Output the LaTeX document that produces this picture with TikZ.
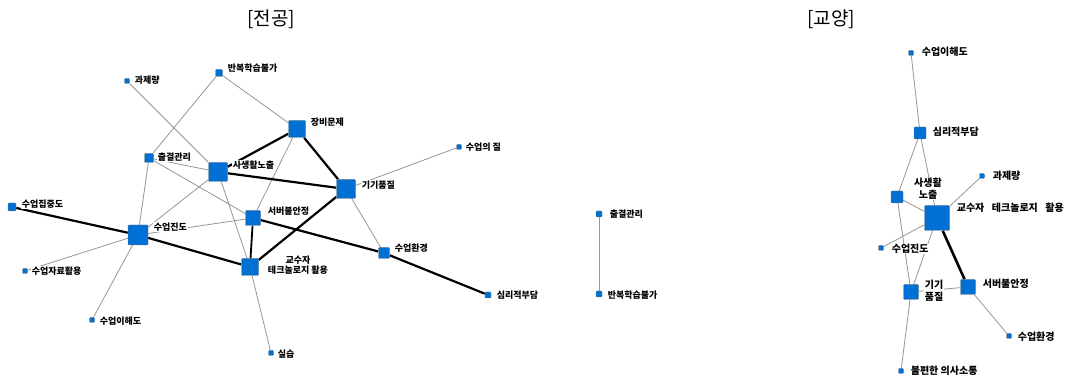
\documentclass[tikz,border=0pt]{standalone}
\usepackage{fontspec}
\setmainfont{Noto Sans CJK KR}
\definecolor{nodeblue}{RGB}{0,112,212}
\definecolor{edgegray}{RGB}{150,150,150}
\pgfdeclarelayer{background}
\pgfsetlayers{background,main}
\begin{document}
\begin{tikzpicture}[x=1pt,y=-1pt,
  nd/.style={draw=black!55,fill=nodeblue,line width=0.4pt,rounded corners=0.8pt,inner sep=0pt,minimum size=#1},
  lbl/.style={font=\bfseries\fontsize{9}{10}\selectfont,fill=white,inner sep=0.6pt,anchor=west},
  lblc/.style={font=\bfseries\fontsize{9}{10.5}\selectfont,fill=white,inner sep=0.6pt,align=center},
  rlbl/.style={font=\bfseries\fontsize{10}{11}\selectfont,fill=white,inner sep=0.6pt,anchor=west},
  rlblc/.style={font=\bfseries\fontsize{10}{12}\selectfont,fill=white,inner sep=0.6pt,align=center},
  thin edge/.style={draw=edgegray,line width=0.8pt},
  thick edge/.style={draw=black,line width=2.2pt},
  ttl/.style={font=\fontsize{19}{20}\selectfont}
]
\useasboundingbox (0,0) rectangle (1069,379);
% titles
\node[ttl] (t1) at (271,19) {[전공]};
\node[ttl] (t2) at (831,19) {[교양]};

% ---- left labels
\node[lbl] (a1) at (134,80) {과제량};
\node[lbl] (a2) at (227,68) {반복학습불가};
\node[lbl] (a3) at (310,122) {장비문제};
\node[lbl] (a4) at (157,157) {출결관리};
\node[lbl] (a5) at (232,165) {사생활노출};
\node[lbl] (a6) at (361,185) {기기품질};
\node[lbl] (a7) at (465,147) {수업의 질};
\node[lbl] (a8) at (21,204) {수업집중도};
\node[lbl] (a9) at (267,211) {서버불안정};
\node[lbl] (a10) at (153,227) {수업진도};
\node[lbl] (a11) at (394,248) {수업환경};
\node[lblc] (a12) at (298,265) {교수자\\테크놀로지 활용};
\node[lbl] (a13) at (31,271) {수업자료활용};
\node[lbl] (a14) at (496,295) {심리적부담};
\node[lbl] (a15) at (99,321) {수업이해도};
\node[lbl] (a16) at (277,354) {실습};
\node[lbl] (b1) at (609,214) {출결관리};
\node[lbl] (b2) at (607,295) {반복학습불가};
% ---- right labels
\node[rlbl] (c1) at (921,52) {수업이해도};
\node[rlbl] (c2) at (932,132) {심리적부담};
\node[rlbl] (c3) at (992,176) {과제량};
\node[rlblc] (c4) at (928,189) {사생활\\노출};
\node[rlbl] (c5) at (956,208) {교수자\hspace{0.75em}테크놀로지\hspace{0.75em}활용};
\node[rlbl] (c6) at (891,249) {수업진도};
\node[rlblc] (c7) at (934,291) {기기\\품질};
\node[rlbl] (c8) at (982,284) {서버불안정};
\node[rlbl] (c9) at (1017,337) {수업환경};
\node[rlbl] (c10) at (910,371) {불편한 의사소통};

% ---- left nodes
\node[nd=5pt] (L1) at (127,81) {};
\node[nd=7pt] (L2) at (219,73) {};
\node[nd=17pt] (L3) at (297,129) {};
\node[nd=9pt] (L4) at (149,158) {};
\node[nd=19pt] (L5) at (218,172) {};
\node[nd=19pt] (L6) at (346,189) {};
\node[nd=5pt] (L7) at (459,147) {};
\node[nd=8pt] (L8) at (12,207) {};
\node[nd=15pt] (L9) at (253,218) {};
\node[nd=20pt] (L10) at (138,235) {};
\node[nd=11pt] (L11) at (384,253) {};
\node[nd=17pt] (L12) at (250,267) {};
\node[nd=5pt] (L13) at (25,271) {};
\node[nd=6pt] (L14) at (488,295) {};
\node[nd=5pt] (L15) at (92,320) {};
\node[nd=5pt] (L16) at (271,353) {};
\node[nd=6pt] (M1) at (599,214) {};
\node[nd=6pt] (M2) at (599,294) {};
% ---- right nodes
\node[nd=5pt] (R1) at (911,53) {};
\node[nd=12pt] (R2) at (920,133) {};
\node[nd=5pt] (R3) at (982,176) {};
\node[nd=12pt] (R4) at (897,197) {};
\node[nd=25pt] (R5) at (937,218) {};
\node[nd=5pt] (R6) at (881,248) {};
\node[nd=15pt] (R7) at (911,292) {};
\node[nd=15pt] (R8) at (968,287) {};
\node[nd=5pt] (R9) at (1009,336) {};
\node[nd=5pt] (R10) at (901,371) {};

\begin{pgfonlayer}{background}
% thin
\foreach \u/\v in {L1/L5,L2/L4,L2/L3,L3/L9,L4/L5,L4/L9,L4/L10,L5/L10,L5/L12,L6/L7,L6/L11,L9/L10,L10/L13,L10/L15,L12/L16,M1/M2,
  R1/R2,R2/R4,R2/R5,R3/R5,R4/R5,R4/R7,R5/R6,R5/R7,R7/R8,R7/R10,R8/R9}
  \draw[thin edge] (\u) -- (\v);
% thick
\foreach \u/\v in {L3/L5,L3/L6,L5/L6,L6/L12,L11/L14,L10/L8,L10/L12,L9/L11}
  \draw[thick edge] (\u) -- (\v);
\draw[thick edge,line width=1.8pt] (L9) -- (L12);
\draw[thick edge,line width=2.6pt] (R5) -- (R8);
\end{pgfonlayer}
\end{tikzpicture}
\end{document}
